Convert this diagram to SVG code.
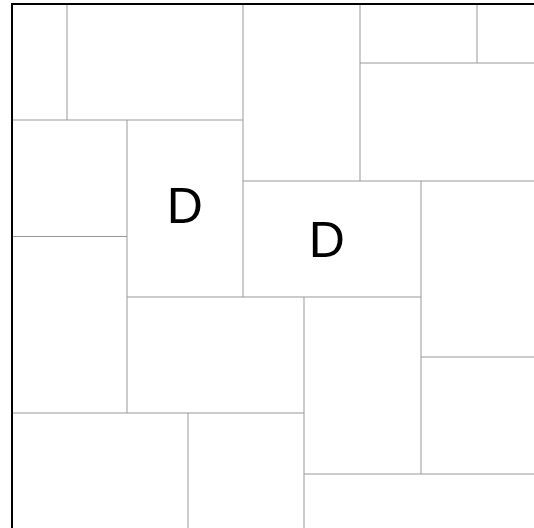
<svg xmlns="http://www.w3.org/2000/svg" width="534" height="528" viewBox="0 0 534 528">
<style>
.g{stroke:#999;stroke-width:1;fill:none}
.b{stroke:#000;stroke-width:2;fill:none}
.t{font-family:"Liberation Sans",Arial,sans-serif;font-size:50px;fill:#000}
</style>
<rect width="534" height="528" fill="#fff"/>
<g id="grid">
<line class="g" x1="67" y1="4" x2="67" y2="120"/>
<line class="g" x1="12" y1="120" x2="243" y2="120"/>
<line class="g" x1="243" y1="4" x2="243" y2="297"/>
<line class="g" x1="127" y1="120" x2="127" y2="413"/>
<line class="g" x1="12" y1="236.5" x2="127" y2="236.5"/>
<line class="g" x1="127" y1="297" x2="421" y2="297"/>
<line class="g" x1="243" y1="181" x2="534" y2="181"/>
<line class="g" x1="360" y1="4" x2="360" y2="181"/>
<line class="g" x1="360" y1="63" x2="534" y2="63"/>
<line class="g" x1="477" y1="4" x2="477" y2="63"/>
<line class="g" x1="421" y1="181" x2="421" y2="474"/>
<line class="g" x1="421" y1="357" x2="534" y2="357"/>
<line class="g" x1="304" y1="474" x2="534" y2="474"/>
<line class="g" x1="304" y1="297" x2="304" y2="528"/>
<line class="g" x1="12" y1="413" x2="304" y2="413"/>
<line class="g" x1="188" y1="413" x2="188" y2="528"/>
</g>
<g id="border">
<line class="b" x1="11" y1="4" x2="534" y2="4"/>
<line class="b" x1="12" y1="3" x2="12" y2="528"/>
</g>
<g id="labels">
<text class="t" x="166.7" y="222.7">D</text>
<text class="t" x="308.8" y="257.3">D</text>
</g>
</svg>
